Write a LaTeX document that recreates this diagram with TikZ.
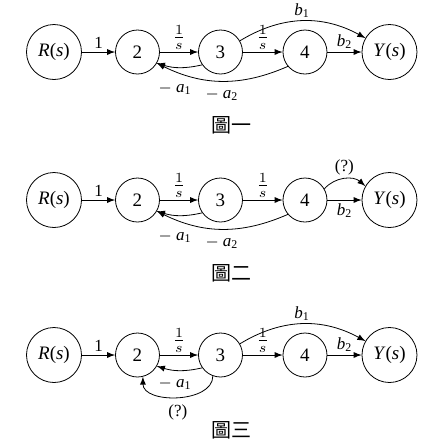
\documentclass[tikz,border=0pt]{standalone}
\usepackage{fontspec}
\setmainfont{Liberation Serif}
\newfontfamily\cjk{Noto Sans CJK TC}
\begin{document}
\begin{tikzpicture}[x=0.5pt, y=0.5pt, >=latex,
    main/.style = {draw, circle, minimum size=22pt, inner sep=0pt, font=\fontsize{9.5}{11}\selectfont},
    io/.style = {main, minimum size=27.5pt},
    lbl/.style = {font=\fontsize{8.5}{10}\selectfont, inner sep=1.5pt},
    frc/.style = {font=\fontsize{10}{12}\selectfont, inner sep=1pt},
    figcap/.style = {font=\cjk\fontsize{10}{12}\selectfont}]
    \useasboundingbox (0,0) rectangle (443,-447);

    % the five nodes and the straight branches of each graph
    \foreach \k/\y/\bpos in {1/52/above, 2/200/below, 3/355/above} {
        \node[io] (r-\k) at (54,-\y) {\textit{R}(\textit{s})};
        \node[main] (n2-\k) at (137.5,-\y) {2};
        \node[main] (n3-\k) at (220.5,-\y) {3};
        \node[main] (n4-\k) at (305,-\y) {4};
        \node[io] (y-\k) at (389.5,-\y) {\textit{Y}(\textit{s})};

        \draw[->] (r-\k) -- node[lbl, above] {1} (n2-\k);
        \draw[->] (n2-\k) -- node[frc, above] {$\frac{1}{s}$} (n3-\k);
        \draw[->] (n3-\k) -- node[frc, above] {$\frac{1}{s}$} (n4-\k);
        \draw[->] (n4-\k) -- node[lbl, \bpos] {\textit{b}\textsubscript{2}} (y-\k);
    }

    % graph 1
    \draw[->] (n3-1.30) to[bend left=30] node[lbl, above] {\textit{b}\textsubscript{1}} (y-1.150);
    \draw[->] (n3-1.215) to[bend left=15] node[lbl, pos=0.6, below=6pt] {$-$ \textit{a}\textsubscript{1}} (n2-1.-30);
    \draw[->] (n4-1.220) to[bend left=25] node[lbl, pos=0.5, below=2pt] {$-$ \textit{a}\textsubscript{2}} (n2-1.-30);
    \node[figcap] (cap-1) at (232,-125) {圖一};

    % graph 2
    \draw[->] (n4-2.30) to[bend left=45] node[lbl, above] {(?)} (y-2.150);
    \draw[->] (n3-2.215) to[bend left=15] node[lbl, pos=0.6, below=6pt] {$-$ \textit{a}\textsubscript{1}} (n2-2.-30);
    \draw[->] (n4-2.220) to[bend left=25] node[lbl, pos=0.5, below=2pt] {$-$ \textit{a}\textsubscript{2}} (n2-2.-30);
    \node[figcap] (cap-2) at (232,-273) {圖二};

    % graph 3
    \draw[->] (n3-3.30) to[bend left=30] node[lbl, above] {\textit{b}\textsubscript{1}} (y-3.150);
    \draw[->] (n3-3.215) to[bend left=15] node[lbl, pos=0.6, below=2pt] {$-$ \textit{a}\textsubscript{1}} (n2-3.-30);
    \draw[->] (n3-3.250) to[out=-90, in=-90] node[lbl, below=2pt] {(?)} (n2-3.284);
    \node[figcap] (cap-3) at (232,-430) {圖三};
\end{tikzpicture}
\end{document}
